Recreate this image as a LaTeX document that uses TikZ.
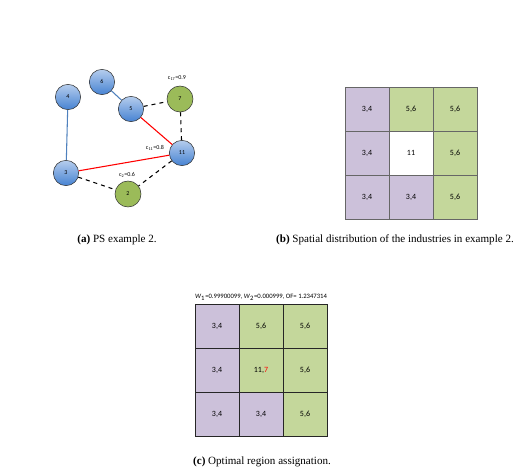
\documentclass[tikz,border=0pt]{standalone}
\usepackage{fontspec}
\setmainfont{Liberation Serif}
\newfontfamily\calib{Carlito}
\definecolor{nodeblue}{RGB}{70,130,210}
\definecolor{edgeblue}{RGB}{79,129,189}
\definecolor{nodegreen}{RGB}{155,187,89}
\definecolor{lilac}{RGB}{204,193,218}
\definecolor{leaf}{RGB}{196,215,155}
\begin{document}
\begin{tikzpicture}[x=0.75pt, y=-0.75pt,
		bnode/.style={circle, draw=black!80, thin, minimum size=19pt, inner sep=0, top color=nodeblue!40, bottom color=nodeblue, font=\calib\fontsize{4.5}{5}\selectfont},
		gnode/.style={circle, draw=black!80, thin, minimum size=19.5pt, inner sep=0, fill=nodegreen, font=\calib\fontsize{4.5}{5}\selectfont},
		cost/.style={font=\calib\fontsize{4.5}{5}\selectfont, inner sep=1},
		cell/.style={draw=black!60, minimum size=33pt, inner sep=0, font=\calib\fontsize{6}{7}\selectfont},
		caption/.style={font=\fontsize{8.3}{10}\selectfont}]
		\useasboundingbox (0,0) rectangle (531,473);
		% (a) graph
		\node[bnode] at (102,82) (n6) {6};
		\node[bnode] at (68,97) (n4) {4};
		\node[bnode] at (131,109) (n5) {5};
		\node[gnode] at (180,99) (n7) {7};
		\node[bnode] at (182,153) (n11) {11};
		\node[bnode] at (66,173) (n3) {3};
		\node[gnode] at (128,194) (n2) {2};
		\draw[edgeblue, thick] (n6) -- (n5);
		\draw[edgeblue, thick] (n4) -- (n3);
		\draw[red, thick] (n5) -- (n11);
		\draw[red, thick] (n3) -- (n11);
		\draw[dashed, thick] (n5) -- (n7);
		\draw[dashed, thick] (n7) -- (n11);
		\draw[dashed, thick] (n11) -- (n2);
		\draw[dashed, thick] (n3) -- (n2);
		\node[cost] at (177,78) (c7) {c\textsubscript{17}=0.9};
		\node[cost] at (155,148) (c11) {c\textsubscript{11}=0.8};
		\node[cost] at (127,175) (c2) {c\textsubscript{2}=0.6};
		\node[caption] at (117,240) (capa) {\textbf{(a)} PS example 2.};
		% (b) spatial distribution
		\node[cell, fill=lilac] at (367,109) (b11) {3,4};
		\node[cell, fill=leaf] at (411,109) (b12) {5,6};
		\node[cell, fill=leaf] at (455,109) (b13) {5,6};
		\node[cell, fill=lilac] at (367,153) (b21) {3,4};
		\node[cell, fill=white] at (411,153) (b22) {11};
		\node[cell, fill=leaf] at (455,153) (b23) {5,6};
		\node[cell, fill=lilac] at (367,197) (b31) {3,4};
		\node[cell, fill=lilac] at (411,197) (b32) {3,4};
		\node[cell, fill=leaf] at (455,197) (b33) {5,6};
		\node[caption] at (395,240) (capb) {\textbf{(b)} Spatial distribution of the industries in example 2.};
		% (c) optimal assignation
		\node[font=\calib\fontsize{5}{6}\selectfont] at (261,297) (title) {\textit{W}\textsubscript{1}=0.99900099, \textit{W}\textsubscript{2}=0.000999, OF= 1.2347314};
		\node[cell, draw=black!85, fill=lilac] at (217,326) (c11c) {3,4};
		\node[cell, draw=black!85, fill=leaf] at (261,326) (c12c) {5,6};
		\node[cell, draw=black!85, fill=leaf] at (305,326) (c13c) {5,6};
		\node[cell, draw=black!85, fill=lilac] at (217,370) (c21c) {3,4};
		\node[cell, draw=black!85, fill=leaf] at (261,370) (c22c) {11,\textcolor{red}{7}};
		\node[cell, draw=black!85, fill=leaf] at (305,370) (c23c) {5,6};
		\node[cell, draw=black!85, fill=lilac] at (217,414) (c31c) {3,4};
		\node[cell, draw=black!85, fill=lilac] at (261,414) (c32c) {3,4};
		\node[cell, draw=black!85, fill=leaf] at (305,414) (c33c) {5,6};
		\node[caption] at (262,462) (capc) {\textbf{(c)} Optimal region assignation.};
	\end{tikzpicture}
\end{document}
